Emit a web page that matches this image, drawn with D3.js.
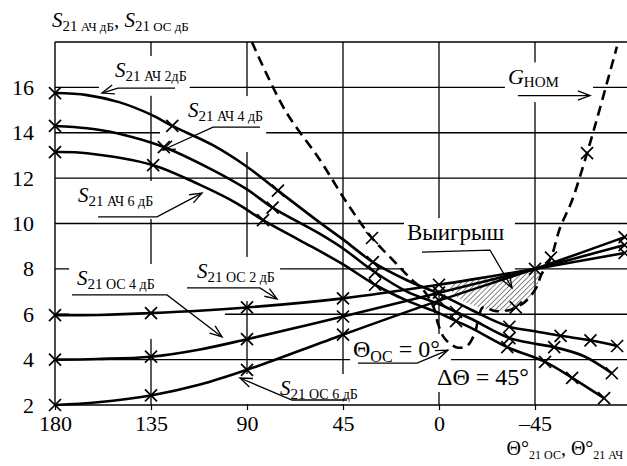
<!DOCTYPE html>
<html><head><meta charset="utf-8">
<script src="https://cdn.jsdelivr.net/npm/d3@7"></script>
<style>
body{margin:0;background:#fff}
svg{display:block}
svg text, svg tspan{font-family:"Liberation Serif","Times New Roman",Tinos,"DejaVu Serif",serif !important;fill:#000}
</style>
</head><body>
<svg id="c" width="627" height="466" style="font-family:'Liberation Serif','Times New Roman',serif"></svg>
<script>
// ---------------- data ----------------
const xTicks = [180, 135, 90, 45, 0, -45];
const yTicks = [2, 4, 6, 8, 10, 12, 14, 16];
const xGrid = [135, 90, 45, 0, -45];
const yGrid = [4, 6, 8, 10, 12, 14, 16];

// S21 АЧ curves (descending)
const s21Ach2 = [[180,15.75],[165,15.66],[150,15.35],[135,14.8],[125,14.3],[106,13.45],[90,12.5],[75.5,11.45],[56,10.05],[45,9.3],[31,8.3],[15,7.5],[0,6.9],[-15,6.2],[-33,5.45],[-45,5.25],[-57,5.05],[-71,4.85],[-83.5,4.6]];
const s21Ach2Marks = [180,125,75.5,31,-33,-57,-71,-83.5];
const s21Ach4 = [[180,14.3],[165,14.2],[151,13.98],[129,13.37],[106,12.35],[90,11.5],[78,10.7],[56,9.55],[45,8.9],[30,7.85],[15,7.0],[0,6.45],[-8,6.1],[-15,5.8],[-33,4.95],[-45,4.7],[-54,4.55],[-68,4.15],[-81,3.4]];
const s21Ach4Marks = [180,129,78,30,-8,-33,-54,-81];
const s21Ach6 = [[180,13.15],[165,13.1],[134,12.57],[112,11.7],[95,10.9],[82.5,10.15],[65,9.25],[45,8.2],[30,7.3],[15,6.6],[0,6.05],[-8,5.7],[-15,5.4],[-32,4.55],[-49.7,3.9],[-62.4,3.2],[-77.4,2.3]];
const s21Ach6Marks = [180,134,82.5,30,-8,-32,-49.7,-62.4,-77.4];

// S21 ОС curves (ascending)
const s21Oc2 = [[180,5.96],[160,5.97],[135,6.05],[90,6.3],[45,6.7],[0,7.3],[-45,8.0],[-87,8.7]];
const s21Oc2Marks = [180,135,90,45,0,-87];
const s21Oc4 = [[180,4.0],[160,4.03],[135,4.13],[112,4.45],[90,4.9],[45,5.9],[0,6.95],[-45,8.0],[-87,9.05]];
const s21Oc4Marks = [180,135,90,45,0,-45,-87];
const s21Oc6 = [[180,2.0],[160,2.12],[135,2.42],[112,2.9],[90,3.55],[45,5.1],[0,6.6],[-45,8.0],[-87,9.4]];
const s21Oc6Marks = [180,135,90,45,0,-87];

// G_НОМ (dashed)
const gNom = [[87.7,18.0],[72.2,15.0],[55.8,12.8],[43.1,10.9],[31.4,9.36],[21.6,8.39],[13.6,7.6],[6.6,6.98],[2.5,6.3],[0.5,5.6],[-2.5,4.95],[-8,4.55],[-13,4.6],[-16.5,5.1],[-18.5,5.8],[-20.5,6.3],[-26.3,6.14],[-33.3,6.19],[-36,6.3],[-40.3,6.54],[-45.5,7.15],[-48,7.75],[-52.5,8.5],[-56.7,9.8],[-62.3,11.0],[-69.4,13.1],[-75.5,15.1],[-83.4,17.8]];
const gNomMarks = [31.4,-36,-52.5,-69.4];

// "Выигрыш" region
const gainRegion = [[-6,7.39],[-15,7.53],[-25,7.69],[-35,7.84],[-45,8.0],[-47,7.7],[-45.5,7.15],[-40.3,6.54],[-36,6.3],[-33.3,6.19],[-26.3,6.14],[-20.2,6.27],[-12,6.55],[-6,7.0]];

// ---------------- chart ----------------
const W = 627, H = 466;
const FONT = "'Liberation Serif','Times New Roman',serif";
const svg = d3.select("#c");
const x = d3.scaleLinear().domain([180, -90]).range([55, 631]);
const y = d3.scaleLinear().domain([2, 18]).range([405, 42]);

const defs = svg.append("defs");
const pat = defs.append("pattern").attr("id","hatch").attr("patternUnits","userSpaceOnUse")
  .attr("width",3.6).attr("height",3.6).attr("patternTransform","rotate(45)");
pat.append("line").attr("x1",0).attr("y1",0).attr("x2",0).attr("y2",3.6)
  .attr("stroke","#444").attr("stroke-width",1.3);

const gGrid = svg.append("g");
const gBg = svg.append("g");
const gData = svg.append("g");
const gAnn = svg.append("g");

// grid
gGrid.selectAll("line.v").data(xGrid).join("line")
  .attr("x1", d => x(d)).attr("x2", d => x(d)).attr("y1", y(18)).attr("y2", y(2))
  .attr("stroke","#000").attr("stroke-width",1.3);
gGrid.selectAll("line.h").data(yGrid).join("line")
  .attr("x1", x(180)).attr("x2", W).attr("y1", d => y(d)).attr("y2", d => y(d))
  .attr("stroke","#000").attr("stroke-width",1.3);
gGrid.append("line").attr("x1",x(180)).attr("x2",W).attr("y1",y(18)).attr("y2",y(18)).attr("stroke","#000").attr("stroke-width",1.3);

// axes
const xAxis = d3.axisBottom(x).tickValues(xTicks).tickSize(5).tickPadding(5)
  .tickFormat(d => d < 0 ? "\u2013" + Math.abs(d) : d);
const ax = svg.append("g").attr("transform", `translate(0,${y(2)})`).call(xAxis).attr("font-family", FONT);
ax.select(".domain").attr("d", `M${x(180)},0H${W}`).attr("stroke","#000").attr("stroke-width",1.4);
ax.selectAll(".tick line").attr("stroke","#000").attr("stroke-width",1.2);
ax.selectAll(".tick text").attr("font-family",FONT).attr("font-size",22).attr("fill","#000");

const yAxis = d3.axisLeft(y).tickValues(yTicks).tickSize(0).tickPadding(21);
const ay = svg.append("g").attr("transform", `translate(${x(180)},0)`).call(yAxis).attr("font-family", FONT);
ay.select(".domain").attr("d", `M0,${y(18)}V${y(2)}`).attr("stroke","#000").attr("stroke-width",1.4);
ay.selectAll(".tick text").attr("font-family",FONT).attr("font-size",22).attr("fill","#000");

// hatch region
gData.append("path").datum(gainRegion)
  .attr("d", d3.line().x(d=>x(d[0])).y(d=>y(d[1])).curve(d3.curveCatmullRomClosed.alpha(0.5)))
  .attr("fill","url(#hatch)").attr("stroke","none");

const curve = d3.line().x(d=>x(d[0])).y(d=>y(d[1])).curve(d3.curveCatmullRom.alpha(0.5));

const solid = [
  [s21Ach2, s21Ach2Marks], [s21Ach4, s21Ach4Marks], [s21Ach6, s21Ach6Marks],
  [s21Oc2, s21Oc2Marks], [s21Oc4, s21Oc4Marks], [s21Oc6, s21Oc6Marks]
];
solid.forEach(([pts]) => {
  gData.append("path").datum(pts).attr("d", curve)
    .attr("fill","none").attr("stroke","#000").attr("stroke-width",2.6).attr("stroke-linejoin","round");
});
gData.append("path").datum(gNom).attr("d", curve)
  .attr("fill","none").attr("stroke","#000").attr("stroke-width",2.6).attr("stroke-dasharray","10,6");

function marks(pts, xs) {
  const sel = xs.map(v => pts.find(p => p[0] === v)).filter(Boolean);
  const s = 6;
  gData.selectAll(null).data(sel).join("path")
    .attr("d", d => { const cx = x(d[0]), cy = y(d[1]);
      return `M${cx-s},${cy-s}L${cx+s},${cy+s}M${cx-s},${cy+s}L${cx+s},${cy-s}`; })
    .attr("stroke","#000").attr("stroke-width",1.7).attr("fill","none");
}
solid.forEach(([pts, m]) => marks(pts, m));
marks(gNom, gNomMarks);

// ---------------- annotations ----------------
function richText(g, px, py, parts, anchor) {
  const t = g.append("text").attr("x", px).attr("y", py).attr("text-anchor", anchor || "start")
    .attr("font-family", FONT).style("font-family", FONT);
  let off = 0;
  parts.forEach(p => {
    const o = p.o || 0;
    t.append("tspan").attr("dy", o - off).attr("font-size", p.s)
      .attr("font-style", p.i ? "italic" : "normal").text(p.t);
    off = o;
  });
  return t;
}
function leader(g, pts) {
  const p = pts.map(d => [x(d[0]), y(d[1])]);
  g.append("path").attr("d", d3.line()(p)).attr("fill","none").attr("stroke","#000").attr("stroke-width",1.3);
  const a = p[p.length-2], b = p[p.length-1];
  const ang = Math.atan2(b[1]-a[1], b[0]-a[0]);
  const L = 13, w = 0.36;
  const h1 = [b[0]-L*Math.cos(ang-w), b[1]-L*Math.sin(ang-w)];
  const h2 = [b[0]-L*Math.cos(ang+w), b[1]-L*Math.sin(ang+w)];
  g.append("path").attr("d", d3.line()([h1,b,h2])).attr("fill","none").attr("stroke","#000").attr("stroke-width",1.3);
}
function sLabel(sub) {
  return [{t:"S", s:21, i:true}, {t:"21", s:15, o:4}, {t:" " + sub, s:14, o:4}];
}

const annotations = [
  {pos:[151.9,16.46], parts:sLabel("АЧ 2дБ"), lead:[[123.75,15.97],[150.5,15.97],[158.0,15.75]]},
  {pos:[117.7,14.69], parts:sLabel("АЧ 4 дБ"), lead:[[83.9,14.25],[105.9,14.25],[129.4,13.24]]},
  {pos:[169.2,10.95], parts:sLabel("АЧ 6 дБ"), lead:[[159.8,10.29],[132.2,10.29],[111.1,11.34]]},
  {pos:[169.7,7.29], parts:sLabel("ОС 4 дБ"), lead:[[172.0,6.85],[127.5,6.85],[101.7,5.0]]},
  {pos:[113.4,7.6], parts:sLabel("ОС 2 дБ"), lead:[[118.1,7.16],[83.9,7.16],[75.9,6.67]]},
  {pos:[74.5,2.44], parts:sLabel("ОС 6 дБ"), lead:[[43.1,2.22],[68.9,2.22],[93.3,3.19]]},
  {pos:[-32.3,16.13], parts:[{t:"G",s:22,i:true},{t:"НОМ",s:15,o:3}], lead:[[-37.0,15.64],[-70.8,15.64]]},
  {pos:[15.0,9.27], parts:[{t:"Выигрыш",s:23}], lead:[[7.97,8.74],[-23.9,8.83],[-34.2,7.16]]},
  {pos:[40.3,4.12], parts:[{t:"Θ",s:24},{t:"ОС",s:16,o:5},{t:" = 0°",s:24,o:0}], lead:[[37.97,3.85],[10.3,3.85],[-4.2,4.42]]},
  {pos:[0.94,2.88], parts:[{t:"ΔΘ = 45°",s:24}]}
];

annotations.forEach(a => {
  const g = gAnn.append("g");
  richText(g, x(a.pos[0]), y(a.pos[1]), a.parts);
  if (a.lead) leader(g, a.lead);
  const bb = g.node().getBBox();
  gBg.append("rect").attr("x", bb.x-3).attr("y", bb.y-2).attr("width", bb.width+6).attr("height", bb.height+4).attr("fill","#fff");
});

// axis titles
richText(svg, 52, 27, [
  {t:"S",s:21,i:true},{t:"21",s:15,o:4},{t:" АЧ дБ",s:13,o:4},{t:", ",s:21,o:0},
  {t:"S",s:21,i:true},{t:"21",s:15,o:4},{t:" ОС дБ",s:13,o:4}
]);
richText(svg, 623, 455, [
  {t:"Θ°",s:20},{t:"21 ОС",s:12,o:4},{t:", Θ°",s:20,o:0},{t:"21 АЧ",s:12,o:4}
], "end");
</script>
</body></html>
